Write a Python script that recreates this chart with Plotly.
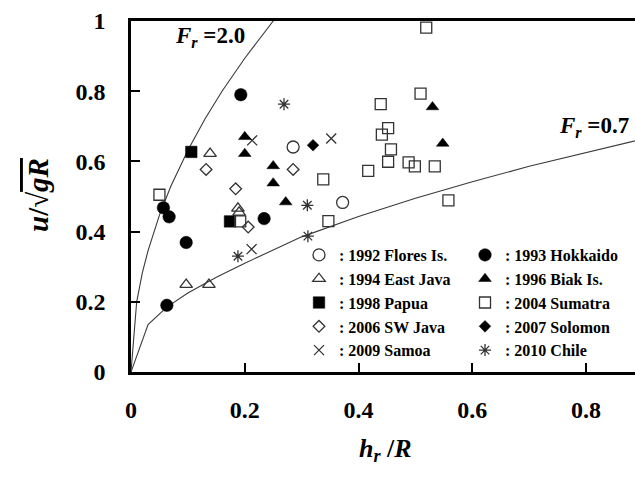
import plotly.graph_objects as go

# ---------------- data ----------------
flores_x = [0.285, 0.372]
flores_y = [0.641, 0.483]

hokkaido_x = [0.193, 0.057, 0.067, 0.097, 0.063, 0.234]
hokkaido_y = [0.790, 0.468, 0.442, 0.369, 0.190, 0.437]

eastjava_x = [0.139, 0.188, 0.190, 0.097, 0.137]
eastjava_y = [0.622, 0.466, 0.455, 0.249, 0.249]

biak_x = [0.200, 0.200, 0.250, 0.250, 0.272, 0.530, 0.548]
biak_y = [0.670, 0.622, 0.587, 0.538, 0.484, 0.755, 0.651]

papua_x = [0.106, 0.174]
papua_y = [0.627, 0.429]

sumatra_x = [0.050, 0.519, 0.509, 0.439, 0.452, 0.441, 0.457, 0.452,
             0.488, 0.499, 0.534, 0.417, 0.338, 0.558, 0.347, 0.192]
sumatra_y = [0.505, 0.981, 0.793, 0.763, 0.695, 0.676, 0.634, 0.599,
             0.597, 0.586, 0.586, 0.573, 0.549, 0.489, 0.430, 0.429]

swjava_x = [0.132, 0.184, 0.285, 0.206]
swjava_y = [0.577, 0.522, 0.577, 0.413]

solomon_x = [0.320]
solomon_y = [0.646]

samoa_x = [0.213, 0.352, 0.212]
samoa_y = [0.660, 0.665, 0.350]

chile_x = [0.269, 0.310, 0.188, 0.311]
chile_y = [0.763, 0.475, 0.330, 0.387]

# Froude-number reference curves
fr20_x = [0, 0.01, 0.02, 0.03, 0.05, 0.07, 0.10, 0.13, 0.16, 0.20, 0.25, 0.27]
fr20_y = [0, 0.200, 0.283, 0.346, 0.447, 0.529, 0.632, 0.721, 0.800, 0.894, 1.000, 1.039]
fr07_x = [0, 0.03, 0.063, 0.10, 0.15, 0.20, 0.30, 0.40, 0.50, 0.60, 0.70, 0.80, 0.90]
fr07_y = [0, 0.135, 0.185, 0.225, 0.270, 0.310, 0.385, 0.443, 0.495, 0.542, 0.586, 0.626, 0.664]

x_ticks = [0, 0.2, 0.4, 0.6, 0.8]
y_ticks = [0, 0.2, 0.4, 0.6, 0.8, 1]

# ---------------- figure ----------------
SERIF = '"Liberation Serif", "Times New Roman", Times, serif'
OPEN_C = "#333333"

fig = go.Figure()

fig.add_trace(go.Scatter(x=fr20_x, y=fr20_y, mode="lines", showlegend=False,
                         line=dict(color="#3a3a3a", width=1.1), hoverinfo="skip"))
fig.add_trace(go.Scatter(x=fr07_x, y=fr07_y, mode="lines", showlegend=False,
                         line=dict(color="#3a3a3a", width=1.1), hoverinfo="skip"))


def add_series(xs, ys, name, symbol, size, legend, filled):
    if filled:
        marker = dict(symbol=symbol, size=size, color="black",
                      line=dict(color="black", width=0.5))
    else:
        marker = dict(symbol=symbol, size=size, color=OPEN_C,
                      line=dict(color=OPEN_C, width=1.3))
    fig.add_trace(go.Scatter(x=xs, y=ys, mode="markers", name=name,
                             marker=marker, legend=legend))


# column 1 of legend
add_series(flores_x, flores_y, ": 1992 Flores Is.", "circle-open", 12, "legend", False)
add_series(eastjava_x, eastjava_y, ": 1994 East Java", "triangle-up-open", 11, "legend", False)
add_series(papua_x, papua_y, ": 1998 Papua", "square", 11.5, "legend", True)
add_series(swjava_x, swjava_y, ": 2006 SW Java", "diamond-open", 9, "legend", False)
add_series(samoa_x, samoa_y, ": 2009 Samoa", "x-thin-open", 10, "legend", False)
# column 2 of legend
add_series(hokkaido_x, hokkaido_y, ": 1993 Hokkaido", "circle", 12.5, "legend2", True)
add_series(biak_x, biak_y, ": 1996 Biak Is.", "triangle-up", 11, "legend2", True)
add_series(sumatra_x, sumatra_y, ": 2004 Sumatra", "square-open", 11, "legend2", False)
add_series(solomon_x, solomon_y, ": 2007 Solomon", "diamond", 9, "legend2", True)
add_series(chile_x, chile_y, ": 2010 Chile", "asterisk-open", 10, "legend2", False)

L, T, B = 131, 21, 109
PW, PH = 635 - L, 481 - T - B

axis_font = dict(family=SERIF, size=24, color="black", weight="bold")
legend_font = dict(family=SERIF, size=16, color="black", weight="bold")

common_axis = dict(ticks="inside", ticklen=9, tickwidth=2, tickcolor="black",
                   showline=True, linewidth=2.5, linecolor="black",
                   showgrid=False, zeroline=False, tickfont=axis_font)

fig.update_layout(
    width=635, height=481,
    margin=dict(l=L, r=0, t=T, b=B, pad=0),
    plot_bgcolor="white", paper_bgcolor="white",
    font=dict(family=SERIF),
    xaxis=dict(range=[0, 0.886], tickvals=x_ticks, ticktext=[f"{v:g}" for v in x_ticks],
               mirror=True, ticklabelstandoff=14, **common_axis),
    yaxis=dict(range=[0, 1], tickvals=y_ticks, ticktext=[f"{v:g}" for v in y_ticks],
               mirror=False, ticklabelstandoff=18, **common_axis),
    legend=dict(x=(299 - L) / PW, xanchor="left", y=(T + PH - 238) / PH, yanchor="top",
                bgcolor="rgba(0,0,0,0)", font=legend_font, tracegroupgap=0, itemwidth=30),
    legend2=dict(x=(465 - L) / PW, xanchor="left", y=(T + PH - 238) / PH, yanchor="top",
                 bgcolor="rgba(0,0,0,0)", font=legend_font, tracegroupgap=0, itemwidth=30),
    showlegend=True,
)

fig.add_annotation(xref="paper", yref="paper", x=(173 - L) / PW, y=(T + PH - 37) / PH,
                   xanchor="left", yanchor="middle", showarrow=False,
                   text="<i>F</i><sub><i>r</i></sub> =2.0",
                   font=dict(family=SERIF, size=23, color="black", weight="bold"))
fig.add_annotation(xref="paper", yref="paper", x=(557 - L) / PW, y=(T + PH - 127) / PH,
                   xanchor="left", yanchor="middle", showarrow=False,
                   text="<i>F</i><sub><i>r</i></sub> =0.7",
                   font=dict(family=SERIF, size=23, color="black", weight="bold"))

# axis titles
fig.add_annotation(xref="paper", yref="paper", x=(385 - L) / PW, y=(T + PH - 450) / PH,
                   xanchor="center", yanchor="middle", showarrow=False,
                   text="<i>h</i><sub><i>r</i></sub> /<i>R</i>",
                   font=dict(family=SERIF, size=26, color="black", weight="bold"))
fig.add_annotation(xref="paper", yref="paper", x=(38 - L) / PW, y=(T + PH - 195) / PH,
                   xanchor="center", yanchor="middle", showarrow=False, textangle=-90,
                   text='<i>u</i>/√<span style="text-decoration:overline"><i>gR</i></span>',
                   font=dict(family=SERIF, size=29, color="black", weight="bold"))

fig.write_html("out.html")
